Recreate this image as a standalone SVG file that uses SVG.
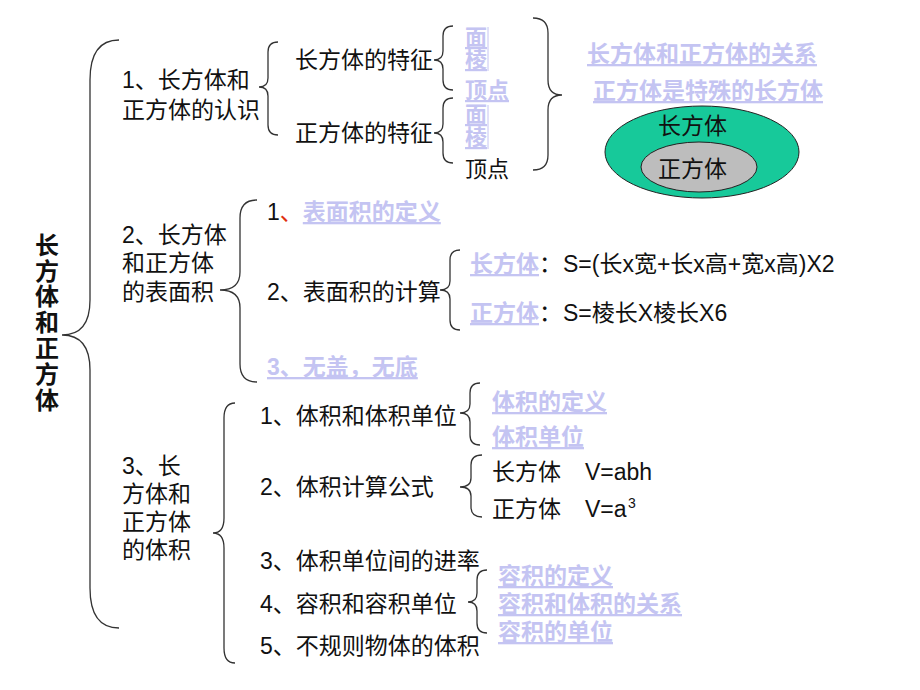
<svg xmlns="http://www.w3.org/2000/svg" width="920" height="690" viewBox="0 0 920 690">
<style>
text{font-family:"Liberation Sans","Noto Sans CJK SC",sans-serif;font-size:23px;fill:#111}
.lk{fill:#c4c4f2;font-weight:bold;text-decoration:underline}
.sm{font-size:22px}
.t{font-size:24px;font-weight:bold;text-anchor:middle}
.br{fill:none;stroke:#333;stroke-width:1.3}
</style>
<rect width="920" height="690" fill="#fff"/>
<g id="connectors">
<path class="br" d="M119,40 Q90,40 90,80 L90,300 Q90,335 62,335 Q90,335 90,370 L90,588 Q90,628 119,628"/>
<path class="br" d="M278,42 Q268,42 268,52 L268,78 Q268,87 259,87 Q268,87 268,96 L268,125 Q268,135 278,135"/>
<path class="br" d="M453,26 Q443,26 443,36 L443,51 Q443,60 434,60 Q443,60 443,69 L443,80 Q443,90 453,90"/>
<path class="br" d="M453,98 Q443,98 443,108 L443,124 Q443,133 434,133 Q443,133 443,142 L443,153 Q443,163 453,163"/>
<path class="br" d="M533,18 Q548,18 548,33 L548,80 Q548,95 562,95 Q548,95 548,110 L548,155 Q548,170 533,170"/>
<path class="br" d="M257,200 Q240,200 240,218 L240,272 Q240,290 220,290 Q240,290 240,308 L240,364 Q240,382 257,382"/>
<path class="br" d="M460,250 Q450,250 450,260 L450,281 Q450,290 440,290 Q450,290 450,299 L450,320 Q450,330 460,330"/>
<path class="br" d="M235,403 Q224,403 224,418 L224,518 Q224,533 213,533 Q224,533 224,548 L224,648 Q224,663 235,663"/>
<path class="br" d="M480,383 Q470,383 470,393 L470,404 Q470,413 460,413 Q470,413 470,422 L470,435 Q470,445 480,445"/>
<path class="br" d="M482,455 Q471,455 471,465 L471,478 Q471,487 460,487 Q471,487 471,496 L471,507 Q471,517 482,517"/>
<path class="br" d="M487,570 Q477,570 477,580 L477,593 Q477,602 468,602 Q477,602 477,611 L477,623 Q477,633 487,633"/>
</g>
<g id="title">
<text class="t" x="47" y="254">长</text>
<text class="t" x="47" y="280">方</text>
<text class="t" x="47" y="305">体</text>
<text class="t" x="47" y="331">和</text>
<text class="t" x="47" y="357">正</text>
<text class="t" x="47" y="383">方</text>
<text class="t" x="47" y="409">体</text>
</g>
<g id="s1">
<text x="122" y="88">1、长方体和</text>
<text x="122" y="118">正方体的认识</text>
</g>
<g id="s1a">
<text x="295" y="68">长方体的特征</text>
</g>
<g id="s1a-items">
<text class="lk sm" x="465" y="45">面</text>
<text class="lk sm" x="465" y="67">棱</text>
<text class="lk sm" x="465" y="98">顶点</text>
<line x1="488" y1="27" x2="488" y2="71" stroke="#c4c4f2" stroke-width="1"/>
</g>
<g id="s1b">
<text x="295" y="141">正方体的特征</text>
</g>
<g id="s1b-items">
<text class="lk sm" x="465" y="122">面</text>
<text class="lk sm" x="465" y="145">棱</text>
<line x1="488" y1="105" x2="488" y2="149" stroke="#c4c4f2" stroke-width="1"/>
<text class="sm" x="465" y="177">顶点</text>
</g>
<g id="relation">
<text class="lk" x="587" y="62">长方体和正方体的关系</text>
<text class="lk" x="593" y="99">正方体是特殊的长方体</text>
</g>
<g id="venn">
<ellipse cx="702" cy="152" rx="97" ry="46" fill="#17c99a" stroke="#222" stroke-width="1"/>
<ellipse cx="699" cy="167" rx="58" ry="25" fill="#bdbdbd" stroke="#222" stroke-width="1"/>
<text x="658" y="134">长方体</text>
<text x="658" y="177">正方体</text>
</g>
<g id="s2">
<text x="122" y="243">2、长方体</text>
<text x="122" y="271">和正方体</text>
<text x="122" y="300">的表面积</text>
</g>
<g id="s2-1">
<text x="267" y="220">1<tspan fill="#e03010">、</tspan><tspan class="lk" fill="#c4c4f2">表面积的定义</tspan></text>
</g>
<g id="s2-2">
<text x="267" y="300">2、表面积的计算</text>
</g>
<g id="s2-2a">
<text x="470" y="272"><tspan class="lk" fill="#c4c4f2">长方体</tspan>：<tspan x="563">S=(长x宽+长x高+宽x高)X2</tspan></text>
</g>
<g id="s2-2b">
<text x="470" y="321"><tspan class="lk" fill="#c4c4f2">正方体</tspan>：<tspan x="563">S=棱长X棱长X6</tspan></text>
</g>
<g id="s2-3">
<text class="lk" x="267" y="375">3、无盖，无底</text>
</g>
<g id="s3">
<text x="122" y="474">3、长</text>
<text x="122" y="502">方体和</text>
<text x="122" y="530">正方体</text>
<text x="122" y="558">的体积</text>
</g>
<g id="s3-1">
<text x="260" y="424">1、体积和体积单位</text>
</g>
<g id="s3-1-items">
<text class="lk" x="492" y="410">体积的定义</text>
<text class="lk" x="492" y="445">体积单位</text>
</g>
<g id="s3-2">
<text x="260" y="495">2、体积计算公式</text>
</g>
<g id="s3-2-items">
<text x="492" y="480">长方体</text>
<text x="585" y="480">V=abh</text>
<text x="492" y="517">正方体</text>
<text x="585" y="517">V=a</text>
<text x="628" y="508" style="font-size:14px">3</text>
</g>
<g id="s3-3">
<text x="260" y="569">3、体积单位间的进率</text>
</g>
<g id="s3-4">
<text x="260" y="612">4、容积和容积单位</text>
</g>
<g id="s3-4-items">
<text class="lk" x="498" y="584">容积的定义</text>
<text class="lk" x="498" y="612">容积和体积的关系</text>
<text class="lk" x="498" y="640">容积的单位</text>
</g>
<g id="s3-5">
<text x="260" y="654">5、不规则物体的体积</text>
</g>
</svg>
